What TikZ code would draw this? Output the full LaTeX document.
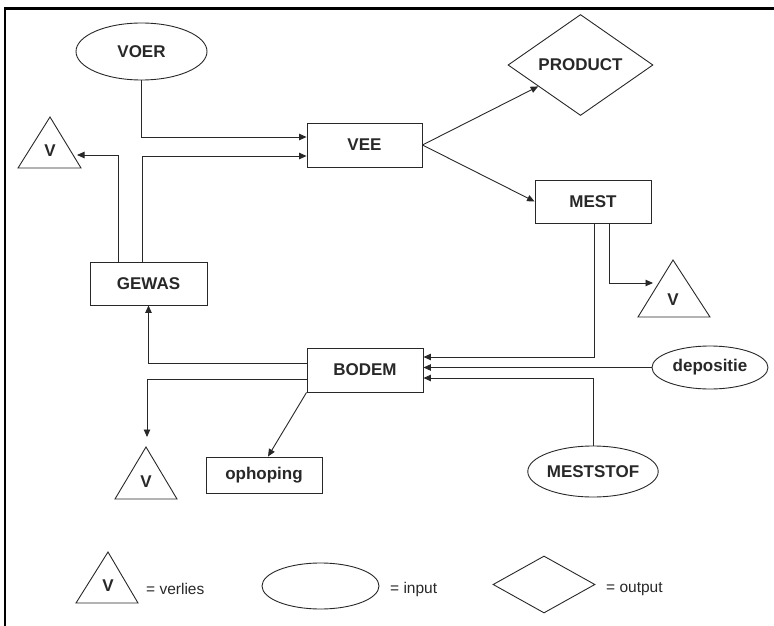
\documentclass[tikz,border=0pt]{standalone}
\usepackage{fontspec}
\setmainfont{Liberation Sans}
\usetikzlibrary{shapes.geometric,arrows.meta,calc}

\definecolor{ink}{RGB}{40,40,40}

\tikzset{
  lbl/.style={font=\bfseries\fontsize{17}{19}\selectfont, text=ink},
  boxnode/.style={lbl, draw=ink, line width=0.9pt, rectangle, inner sep=0pt},
  innode/.style={lbl, draw=ink, line width=0.9pt, ellipse, inner sep=0pt},
  outnode/.style={lbl, draw=ink, line width=0.9pt, diamond, inner sep=0pt},
  vmark/.style={lbl, inner sep=0pt},
  tri/.style={draw=ink, line width=0.9pt, line join=miter},
  flow/.style={draw=ink, line width=0.9pt, -{Triangle[length=7.5pt,width=6.5pt]}},
  keytext/.style={font=\fontsize{15.5}{17}\selectfont, text=ink, anchor=west, inner sep=0pt},
  frame/.style={draw=black, line width=2.5pt}
}

\begin{document}
\begin{tikzpicture}[x=1pt, y=-1pt]
\useasboundingbox (0,0) rectangle (774,626);

% outer frame (top and left edges)
\draw[frame] (5,626) -- (5,8.5) -- (774,8.5);

% main blocks
\node[innode, minimum width=131pt, minimum height=57pt] (voer) at (141.5,51.5) {VOER};
\node[boxnode, minimum width=115pt, minimum height=44pt] (vee) at (364.5,145) {VEE};
\node[outnode, minimum width=145pt, minimum height=101pt] (product) at (580.5,65) {PRODUCT};
\node[boxnode, minimum width=116pt, minimum height=43pt] (mest) at (593,201.5) {MEST};
\node[boxnode, minimum width=117pt, minimum height=43pt] (gewas) at (148.5,283.5) {GEWAS};
\node[boxnode, minimum width=116pt, minimum height=44pt] (bodem) at (365,370) {BODEM};
\node[boxnode, minimum width=116pt, minimum height=36pt] (ophoping) at (264,475) {ophoping};
\node[innode, minimum width=116pt, minimum height=43pt] (depositie) at (710,367.5) {depositie};
\node[innode, minimum width=130pt, minimum height=51pt] (meststof) at (593,471.5) {MESTSTOF};

% loss triangles
\draw[tri] (50,117) -- (81,168) -- (18,168) -- cycle;
\node[vmark] (vleft) at (50,151) {V};
\coordinate (vleft-in) at (77,155);

\draw[tri] (673,260) -- (710,317) -- (638,317) -- cycle;
\node[vmark] (vright) at (673,300) {V};
\coordinate (vright-in) at (653,283);

\draw[tri] (146,447) -- (177,499) -- (115,499) -- cycle;
\node[vmark] (vbottom) at (146,482) {V};
\coordinate (vbottom-in) at (147,437);

% flows
\draw[flow] (voer.south) |- (vee.west |- 0,137);
\draw[flow] (gewas.north -| 142,0) |- (vee.west |- 0,156);
\draw[flow] (gewas.north -| 118,0) |- (vleft-in);
\draw[flow] (vee.east) -- (product);
\draw[flow] (vee.east) -- (mest.west);
\draw[flow] (mest.south -| 594,0) |- (bodem.east |- 0,357);
\draw[flow] (mest.south -| 609,0) |- (vright-in);
\draw[flow] (depositie.west) -- (depositie.west -| bodem.east);
\draw[flow] (meststof.north) |- (bodem.east |- 0,378);
\draw[flow] (bodem.west |- 0,363) -| (gewas.south);
\draw[flow] (bodem.west |- 0,379) -| (vbottom-in);
\draw[flow] (bodem.south west) -- ([xshift=4pt]ophoping.north);

% key
\draw[tri] (108,552) -- (138,603) -- (76,603) -- cycle;
\node[vmark] (keyv) at (108,586) {V};
\node[keytext] (keyvtxt) at (146,589) {= verlies};

\node[innode, minimum width=117pt, minimum height=46pt] (keyin) at (320.5,586) {};
\node[keytext] (keyintxt) at (390,589) {= input};

\node[outnode, minimum width=102pt, minimum height=57pt] (keyout) at (544,584.5) {};
\node[keytext] (keyouttxt) at (606,589) {= output};
\end{tikzpicture}
\end{document}
